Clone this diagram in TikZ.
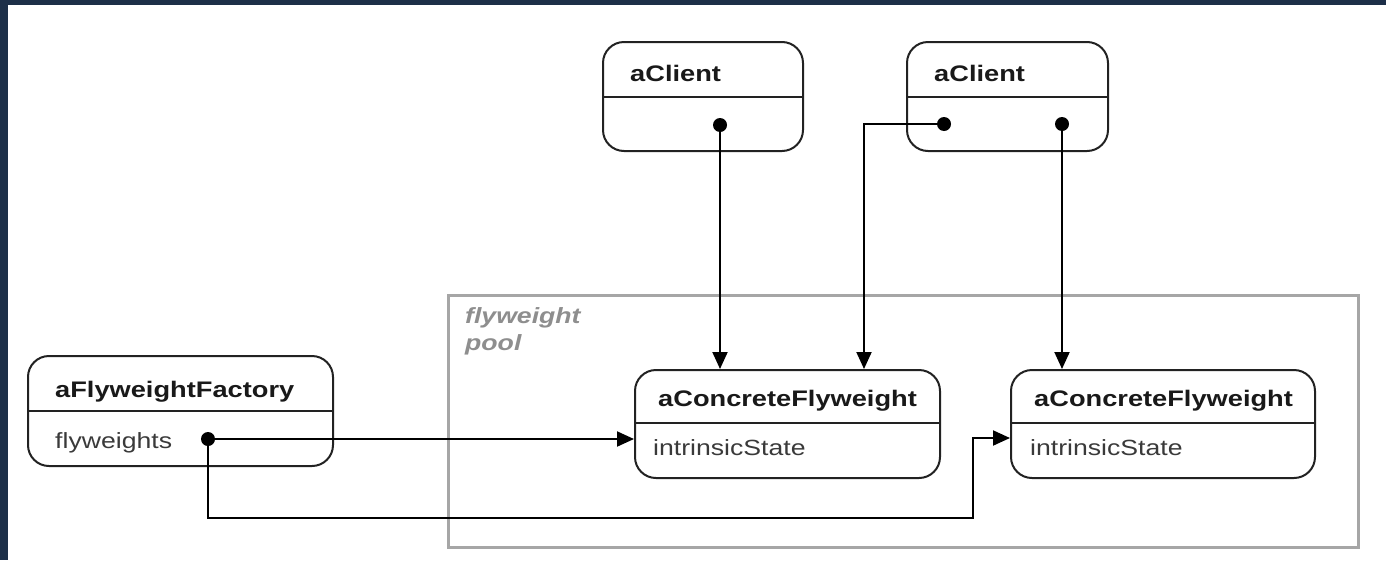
\documentclass[tikz,border=0pt]{standalone}
\usepackage{fontspec}
\setmainfont{Liberation Sans}
\usetikzlibrary{arrows.meta}
\definecolor{framenavy}{HTML}{1D2F48}
\definecolor{boxline}{HTML}{222222}
\definecolor{bodytext}{HTML}{3A3A3A}
\definecolor{poolgray}{HTML}{A6A6A6}
\definecolor{pooltext}{HTML}{8E8E8E}
\newcommand{\wideText}[1]{\scalebox{1.21}[1]{#1}}
\tikzset{
  umlbox/.style={draw=boxline, line width=2pt, rounded corners=21pt, inner sep=0pt, fill=white},
  divider/.style={draw=boxline, line width=2pt},
  titletext/.style={anchor=base west, inner sep=0pt, text=black!90, font=\bfseries\fontsize{22.5}{26}\selectfont},
  bodytxt/.style={anchor=base west, inner sep=0pt, text=bodytext, font=\fontsize{22}{26}\selectfont},
  dot/.style={circle, fill=black, inner sep=0pt, minimum size=14pt},
  conn/.style={draw=black, line width=2pt},
  arr/.style={conn, -{Triangle[length=17pt, width=15pt]}},
}
\begin{document}
\begin{tikzpicture}[x=1pt, y=-1pt]
\useasboundingbox (0,0) rectangle (1386,560);
\fill[white] (0,0) rectangle (1386,560);
\fill[framenavy] (0,0) rectangle (1386,5);
\fill[framenavy] (0,0) rectangle (8,560);

% flyweight pool
\node[draw=poolgray, line width=3pt, minimum width=910pt, minimum height=252pt, inner sep=0pt] (pool) at (903,421) {};
\node[anchor=base west, inner sep=0pt, text=pooltext, align=left,
      font=\bfseries\itshape\fontsize{22}{27}\selectfont] (poollbl) at (465,350)
      {\wideText{flyweight}\\\wideText{pool}};

% boxes
\node[umlbox, minimum width=200pt, minimum height=109pt] (c1) at (703,96.5) {};
\draw[divider] ([yshift=-56pt]c1.north west) -- ([yshift=-56pt]c1.north east);
\node[titletext] (c1t) at (630,81) {\wideText{aClient}};

\node[umlbox, minimum width=201pt, minimum height=109pt] (c2) at (1007.5,96.5) {};
\draw[divider] ([yshift=-56pt]c2.north west) -- ([yshift=-56pt]c2.north east);
\node[titletext] (c2t) at (934,81) {\wideText{aClient}};

\node[umlbox, minimum width=305pt, minimum height=110pt] (fac) at (180.5,411) {};
\draw[divider] ([yshift=-56pt]fac.north west) -- ([yshift=-56pt]fac.north east);
\node[titletext] (fact) at (55,397) {\wideText{aFlyweightFactory}};
\node[bodytxt] (facb) at (55,448) {\wideText{flyweights}};

\node[umlbox, minimum width=305pt, minimum height=108pt] (f1) at (787.5,424) {};
\draw[divider] ([yshift=-54pt]f1.north west) -- ([yshift=-54pt]f1.north east);
\node[titletext] (f1t) at (658,406) {\wideText{aConcreteFlyweight}};
\node[bodytxt] (f1b) at (653,455) {\wideText{intrinsicState}};

\node[umlbox, minimum width=304pt, minimum height=108pt] (f2) at (1163,424) {};
\draw[divider] ([yshift=-54pt]f2.north west) -- ([yshift=-54pt]f2.north east);
\node[titletext] (f2t) at (1034,406) {\wideText{aConcreteFlyweight}};
\node[bodytxt] (f2b) at (1030,455) {\wideText{intrinsicState}};

% dots
\node[dot] (d1) at (720,125) {};
\node[dot] (d2) at (944,124) {};
\node[dot] (d3) at (1062,124) {};
\node[dot] (df) at (208,439) {};

% bend points
\coordinate (k2) at (864,124);
\coordinate (k3) at (208,518);
\coordinate (k4) at (973,518);
\coordinate (e2) at (1011,438);

% connectors
\draw[arr] (d1) -- (d1 |- f1.north);
\draw[arr] (d2) -- (k2) -- (k2 |- f1.north);
\draw[arr] (d3) -- (d3 |- f2.north);
\draw[arr] (df) -- (df -| f1.west);
\draw[arr] (df) -- (k3) -- (k4) |- (f2.west |- e2);
\end{tikzpicture}
\end{document}
